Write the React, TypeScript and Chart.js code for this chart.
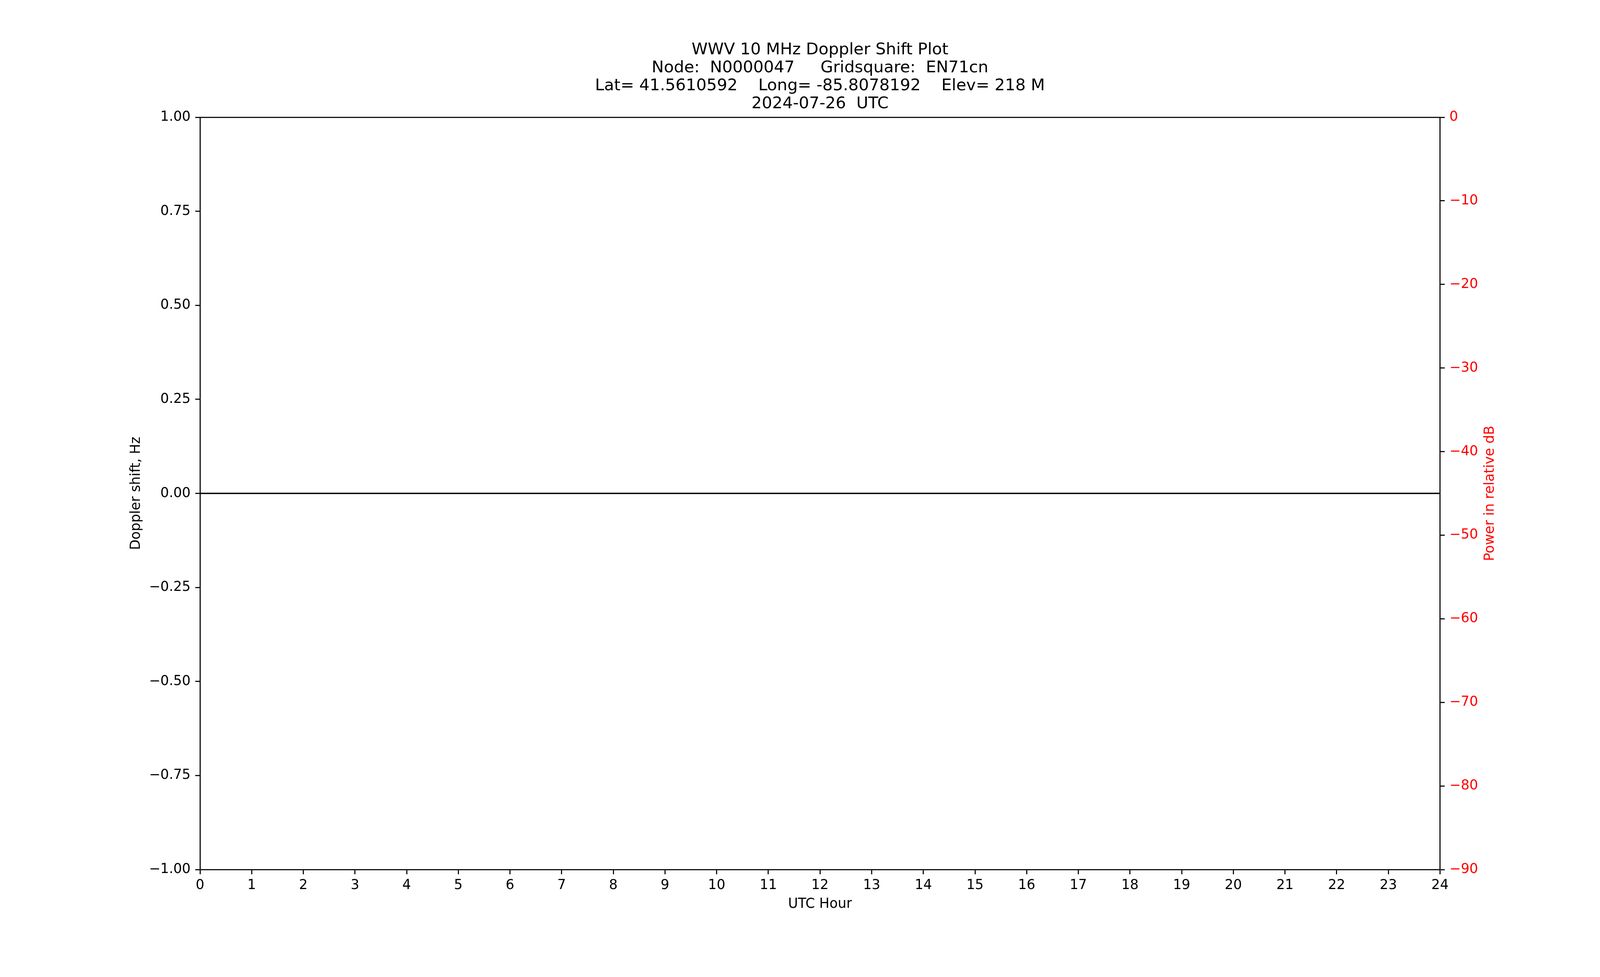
import React, { useEffect, useRef } from 'react';
import { Chart, registerables } from 'chart.js';

Chart.register(...registerables);

// ---- data ----
const titleLines = [
  'WWV 10 MHz Doppler Shift Plot',
  'Node:  N0000047     Gridsquare:  EN71cn',
  'Lat= 41.5610592    Long= -85.8078192    Elev= 218 M',
  '2024-07-26  UTC',
];
const xLabel = 'UTC Hour';
const yLabel = 'Doppler shift, Hz';
const y2Label = 'Power in relative dB';

const hourTicks = [0, 1, 2, 3, 4, 5, 6, 7, 8, 9, 10, 11, 12, 13, 14, 15, 16, 17, 18, 19, 20, 21, 22, 23, 24];
const dopplerTicks = [-1, -0.75, -0.5, -0.25, 0, 0.25, 0.5, 0.75, 1];
const powerTicks = [-90, -80, -70, -60, -50, -40, -30, -20, -10, 0];

const hours = [0, 24];
const dopplerShift = [0, 0];

// ---- style constants ----
const PT = 250 / 72;
const FAMILY = '"DejaVu Sans", sans-serif';
const TICK_FS = 10 * PT;
const TITLE_FS = 12 * PT;
const LW = 0.8 * PT;
const TICK_LEN = 3.5 * PT;
const REF_W = 4750;
const H = 2500;

const minus = (s: string) => s.replace('-', '\u2212');

export default function App() {
  const ref = useRef<HTMLCanvasElement | null>(null);

  useEffect(() => {
    const canvas = ref.current;
    if (!canvas) return;
    const avail = Math.min(
      document.documentElement.clientWidth || REF_W,
      window.innerWidth || REF_W
    );
    const W = Math.min(REF_W, Math.max(1000, avail));
    canvas.width = W;
    canvas.height = H;
    canvas.style.width = W + 'px';
    canvas.style.height = H + 'px';

    const rightTitlePlugin = {
      id: 'rightTitle',
      afterDraw(chart: any) {
        const { ctx, chartArea } = chart;
        ctx.save();
        ctx.translate(chartArea.right + 138, (chartArea.top + chartArea.bottom) / 2);
        ctx.rotate(-Math.PI / 2);
        ctx.font = `${TICK_FS}px ${FAMILY}`;
        ctx.fillStyle = '#ff0000';
        ctx.textAlign = 'center';
        ctx.textBaseline = 'alphabetic';
        ctx.fillText(y2Label, 0, 0);
        ctx.restore();
      },
    };

    const tickFont = { family: FAMILY, size: TICK_FS };
    const gridOpts = {
      drawOnChartArea: false,
      drawTicks: true,
      tickLength: TICK_LEN,
      tickWidth: LW,
      tickColor: '#000000',
    };
    const borderOpts = { display: true, color: '#000000', width: LW };
    const leftW = 0.125 * W;

    const chart = new Chart(canvas, {
      type: 'line',
      data: {
        datasets: [
          {
            data: hours.map((h, i) => ({ x: h, y: dopplerShift[i] })),
            borderColor: '#000000',
            borderWidth: 3.5,
            pointRadius: 0,
            xAxisID: 'x',
            yAxisID: 'y',
            fill: false,
          },
        ],
      },
      options: {
        animation: false,
        responsive: false,
        devicePixelRatio: 1,
        layout: { padding: 0 },
        plugins: {
          legend: { display: false },
          tooltip: { enabled: false },
          title: {
            display: true,
            text: titleLines,
            fullSize: false,
            color: '#000000',
            font: { family: FAMILY, size: TITLE_FS, weight: 'normal', lineHeight: '45.8px' },
            padding: { top: 105.5, bottom: 11.3 },
          },
        },
        scales: {
          x: {
            type: 'linear',
            position: 'bottom',
            min: 0,
            max: 24,
            afterBuildTicks: (s: any) => {
              s.ticks = hourTicks.map((v) => ({ value: v }));
            },
            ticks: {
              autoSkip: false,
              maxRotation: 0,
              minRotation: 0,
              padding: 8,
              color: '#000000',
              font: tickFont,
              callback: (v: any) => String(v),
            },
            grid: gridOpts,
            border: borderOpts,
            title: {
              display: true,
              text: xLabel,
              color: '#000000',
              font: tickFont,
              padding: { top: 0, bottom: 165 },
            },
            afterFit: (s: any) => {
              s.height = 275;
            },
          },
          xTop: {
            type: 'linear',
            position: 'top',
            min: 0,
            max: 24,
            ticks: { display: false },
            grid: { drawOnChartArea: false, drawTicks: false },
            border: borderOpts,
            afterFit: (s: any) => {
              s.height = 0;
            },
          },
          y: {
            type: 'linear',
            position: 'left',
            min: -1,
            max: 1,
            afterBuildTicks: (s: any) => {
              s.ticks = dopplerTicks.map((v) => ({ value: v }));
            },
            ticks: {
              padding: 12,
              color: '#000000',
              font: tickFont,
              callback: (v: any) => minus(Number(v).toFixed(2)),
            },
            grid: gridOpts,
            border: borderOpts,
            title: {
              display: true,
              text: yLabel,
              color: '#000000',
              font: tickFont,
              padding: { top: Math.max(0, leftW - 163 - TICK_FS * 0.6), bottom: 0 },
            },
            afterFit: (s: any) => {
              s.width = leftW;
            },
          },
          y2: {
            type: 'linear',
            position: 'right',
            min: -90,
            max: 0,
            afterBuildTicks: (s: any) => {
              s.ticks = powerTicks.map((v) => ({ value: v }));
            },
            ticks: {
              padding: 12,
              color: '#ff0000',
              font: tickFont,
              callback: (v: any) => minus(String(v)),
            },
            grid: gridOpts,
            border: borderOpts,
            afterFit: (s: any) => {
              s.width = 0.1 * W;
            },
          },
        },
      },
      plugins: [rightTitlePlugin],
    } as any);

    return () => chart.destroy();
  }, []);

  return (
    <div style={{ position: 'absolute', left: 0, top: 0, height: H, background: '#ffffff' }}>
      <canvas ref={ref} style={{ display: 'block' }} />
    </div>
  );
}
